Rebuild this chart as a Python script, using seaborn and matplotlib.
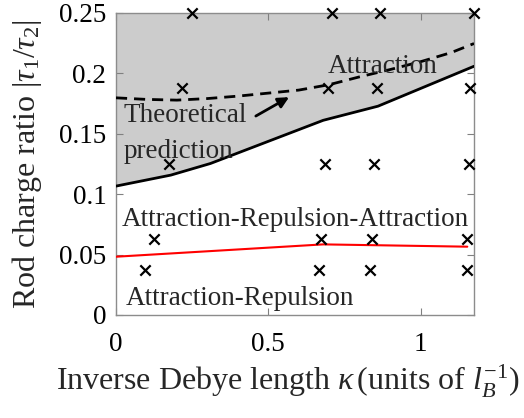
import matplotlib
matplotlib.use("Agg")
import matplotlib.pyplot as plt
import seaborn as sns
import numpy as np
import pandas as pd

# ---- data ----
# simulation points (crosses), per row of tau ratio
row_y = [0.25, 0.1875, 0.125, 0.0625, 0.0375]
row_x = [
    [0.249, 0.708, 0.866, 1.175],
    [0.215, 0.695, 0.857, 1.162],
    [0.175, 0.686, 0.848, 1.157],
    [0.126, 0.673, 0.841, 1.153],
    [0.096, 0.667, 0.834, 1.151],
]
# boundary (solid black)
bound_x = [0.0, 0.18, 0.31, 0.68, 0.86, 1.175]
bound_y = [0.1066, 0.1157, 0.1253, 0.161, 0.1727, 0.2057]
# theoretical prediction (dashed)
theo_x = [0.0, 0.1, 0.2, 0.3, 0.4, 0.5, 0.6, 0.7, 0.8, 0.9, 1.0, 1.1, 1.175]
theo_y = [0.1796, 0.1783, 0.1777, 0.179, 0.181, 0.1835, 0.186, 0.1905, 0.197,
          0.203, 0.2095, 0.217, 0.2245]
# lower boundary (red)
red_x = [0.0, 0.68, 1.153]
red_y = [0.0482, 0.0584, 0.0565]

x_ticks = [0, 0.5, 1]
x_ticklabels = ["0", "0.5", "1"]
y_ticks = [0, 0.05, 0.1, 0.15, 0.2, 0.25]
y_ticklabels = ["0", "0.05", "0.1", "0.15", "0.2", "0.25"]

sns.set_style("ticks")
plt.rcParams["font.family"] = ["Liberation Serif", "DejaVu Serif"]
plt.rcParams["mathtext.fontset"] = "custom"
plt.rcParams["mathtext.rm"] = "Liberation Serif"
plt.rcParams["mathtext.it"] = "Liberation Serif:italic"

FS = 19.5
LFS = 23
fig = plt.figure(figsize=(5.24, 4.18), dpi=100)
ax = fig.add_axes([116 / 524, 1 - 315 / 418, (474 - 116) / 524, (315 - 12.7) / 418])

ax.fill_between(bound_x, bound_y, 0.25, color="#cccccc", lw=0, zorder=0)

df_b = pd.DataFrame({"x": bound_x, "y": bound_y})
df_t = pd.DataFrame({"x": theo_x, "y": theo_y})
df_r = pd.DataFrame({"x": red_x, "y": red_y})
sns.lineplot(data=df_b, x="x", y="y", ax=ax, color="black", lw=2, sort=False, zorder=3)
sns.lineplot(data=df_t, x="x", y="y", ax=ax, color="black", lw=2, sort=False,
             linestyle=(0, (4, 2.5)), zorder=3)
sns.lineplot(data=df_r, x="x", y="y", ax=ax, color="#ff0000", lw=1.5, sort=False, zorder=3)

pts_x, pts_y = [], []
for yv, xs in zip(row_y, row_x):
    pts_x += xs
    pts_y += [yv] * len(xs)
df_p = pd.DataFrame({"x": pts_x, "y": pts_y})
sns.scatterplot(data=df_p, x="x", y="y", ax=ax, marker="x", color="black", s=55,
                linewidth=1.6, clip_on=False, zorder=5)

ax.set_xlim(0, 1.175)
ax.set_ylim(0, 0.25)
ax.set_xticks(x_ticks)
ax.set_xticklabels(x_ticklabels)
ax.set_yticks(y_ticks)
ax.set_yticklabels(y_ticklabels)
ax.tick_params(direction="in", length=5, width=0.8, top=True, right=True,
               labelsize=FS, colors="0.5", labelcolor="black")
ax.tick_params(axis="x", pad=12)
ax.tick_params(axis="y", pad=7)
for s in ax.spines.values():
    s.set_visible(True)
    s.set_color("0.55")
    s.set_linewidth(1.0)

ax.set_xlabel(r"Inverse Debye length $\kappa\,$(units of $l_B^{\mathit{-1}}$)", fontsize=LFS)
ax.set_ylabel(r"Rod charge ratio $|\tau_{\mathit{1}}/\tau_{\mathit{2}}|$", fontsize=LFS)
ax.xaxis.set_label_coords(0.479, -0.158)
ax.yaxis.set_label_coords(-0.2, 0.5)

ax.text(0.696, 0.2003, "Attraction", fontsize=FS, ha="left", va="baseline", zorder=4)
ax.text(0.024, 0.1598, "Theoretical", fontsize=FS, ha="left", va="baseline", zorder=4)
ax.text(0.024, 0.1295, "prediction", fontsize=FS, ha="left", va="baseline", zorder=4)
ax.text(0.0197, 0.0735, "Attraction-Repulsion-Attraction", fontsize=FS, ha="left",
        va="baseline", zorder=4)
ax.text(0.033, 0.0083, "Attraction-Repulsion", fontsize=FS, ha="left", va="baseline", zorder=4)
ax.annotate("", xy=(0.576, 0.1813), xytext=(0.451, 0.1634),
            arrowprops=dict(arrowstyle="-|>", color="black", lw=2, mutation_scale=16))

fig.savefig("out.png", dpi=100)
